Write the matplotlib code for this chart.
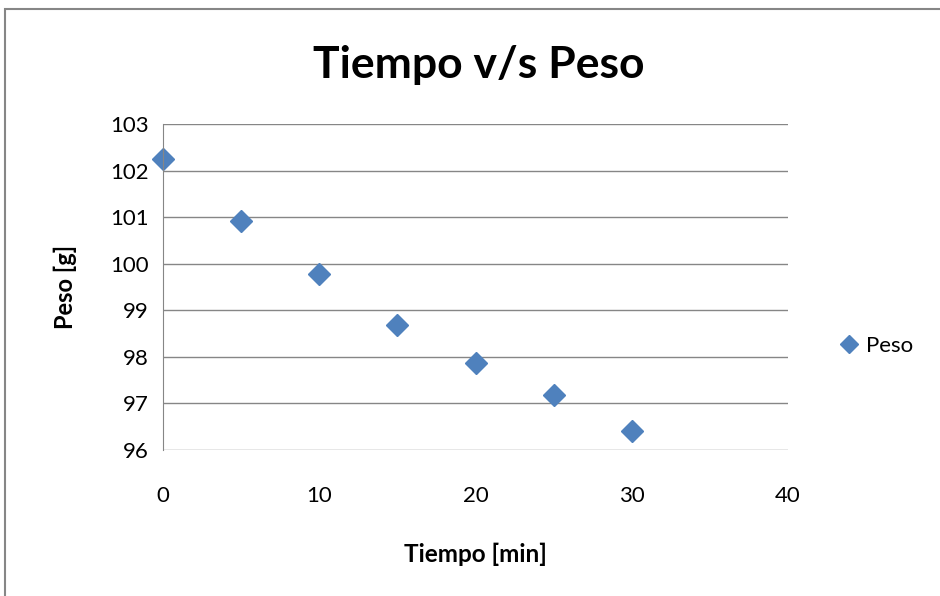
import matplotlib.pyplot as plt
from matplotlib.patches import Rectangle

plt.rcParams['font.family'] = ['Lato', 'DejaVu Sans']

tiempo = [0, 5, 10, 15, 20, 25, 30]
peso = [102.25, 100.92, 99.77, 98.69, 97.86, 97.18, 96.41]
xticks = [0, 10, 20, 30, 40]
yticks = [96, 97, 98, 99, 100, 101, 102, 103]

blue = '#4F81BD'
grey = '#868686'

fig = plt.figure(figsize=(9.4, 5.96), dpi=100)
ax = fig.add_axes([163/940, 146/596, (788-163)/940, (450-124)/596])

# chart frame
fig.patches.append(Rectangle((5/940, -0.1), 1.0, 1 - 9/596 + 0.1, transform=fig.transFigure,
                             fill=False, ec=grey, lw=1.5))

ax.plot(tiempo, peso, ls='none', marker='D', ms=11, color=blue, label='Peso', clip_on=False)

ax.set_xlim(0, 40)
ax.set_ylim(96, 103)
ax.set_xticks(xticks)
ax.set_yticks(yticks)
ax.grid(axis='y', color=grey, lw=1)
ax.set_axisbelow(True)

for s in ['top', 'right', 'bottom']:
    ax.spines[s].set_visible(False)
ax.spines['left'].set_color(grey)
ax.tick_params(length=0, labelsize=16, colors='#000000')
ax.tick_params(axis='x', pad=26)
ax.tick_params(axis='y', pad=10)

ax.set_xlabel('Tiempo [min]', fontsize=17.5, fontweight='bold', labelpad=26)
ax.set_ylabel('Peso [g]', fontsize=17, fontweight='bold', labelpad=24)
fig.suptitle('Tiempo v/s Peso', fontsize=32, fontweight='bold', x=479/940, y=1 - 45/596, va='top')

ax.legend(loc='center left', bbox_to_anchor=(1.065, 0.32), frameon=False, fontsize=16,
          handlelength=1.0, handletextpad=0.3, markerscale=0.8, borderaxespad=0)

fig.savefig('out.png', dpi=100)
